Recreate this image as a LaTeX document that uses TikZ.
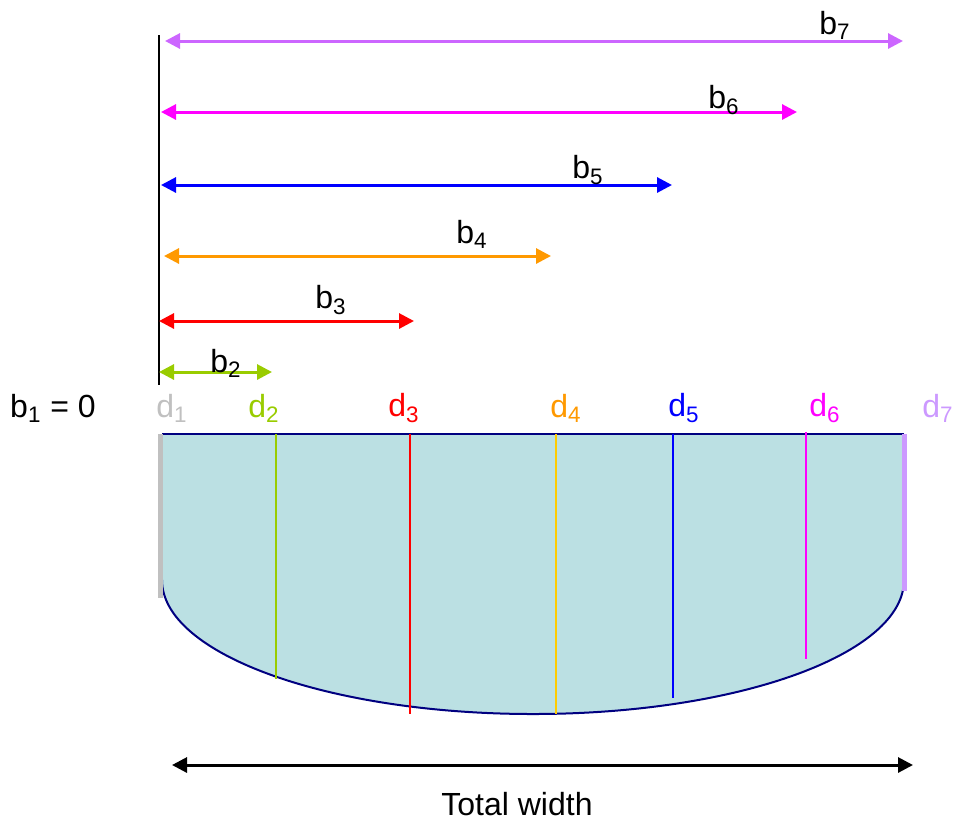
\documentclass[tikz,border=0pt]{standalone}
\usepackage{fontspec}
\setmainfont{Liberation Sans}
\usetikzlibrary{arrows.meta}
\definecolor{cb7}{HTML}{CC66FF}
\definecolor{cd7}{HTML}{CC99FF}
\definecolor{cb6}{HTML}{FF00FF}
\definecolor{cb5}{HTML}{0000FF}
\definecolor{cb4}{HTML}{FF9900}
\definecolor{cd4}{HTML}{FFCC00}
\definecolor{cb3}{HTML}{FF0000}
\definecolor{cb2}{HTML}{99CC00}
\definecolor{cd1}{HTML}{C0C0C0}
\definecolor{wfill}{HTML}{BBE0E3}
\definecolor{navy}{HTML}{000080}
\begin{document}
\begin{tikzpicture}[x=0.5pt,y=-0.5pt,
  lbl/.style={inner sep=0pt,font=\fontsize{16}{19}\selectfont},
  dim/.style={line width=1.5pt,{Triangle[length=7.5pt,width=7.5pt]}-{Triangle[length=7.5pt,width=7.5pt]}},
  sect/.style={line width=1pt},
  bar/.style={line width=2.5pt}]
\useasboundingbox (0,0) rectangle (956,820);
% section shape
\coordinate (tl) at (162,434);
\coordinate (tr) at (904,434);
\coordinate (rs) at (904,580);
\path[fill=wfill] (tl) -- (tr) -- (rs) arc[start angle=0,end angle=-180,x radius=185.5pt,y radius=67pt] -- cycle;
\draw[navy,line width=1pt] (rs) arc[start angle=0,end angle=-180,x radius=185.5pt,y radius=67pt];
\draw[navy,line width=1.1pt] (tl) -- (tr);
% side bars
\coordinate (g1) at (160,434); \coordinate (g2) at (160,598);
\coordinate (p1) at (904,434); \coordinate (p2) at (904,591);
\draw[bar,cd1] (g1) -- (g2);
\draw[bar,cd7] (p1) -- (p2);
% depth lines
\coordinate (d2t) at (276,434); \coordinate (d2b) at (276,679);
\coordinate (d3t) at (410,434); \coordinate (d3b) at (410,714);
\coordinate (d4t) at (556,434); \coordinate (d4b) at (556,714);
\coordinate (d5t) at (673,434); \coordinate (d5b) at (673,698);
\coordinate (d6t) at (806,432); \coordinate (d6b) at (806,659);
\draw[sect,cb2] (d2t) -- (d2b);
\draw[sect,cb3] (d3t) -- (d3b);
\draw[sect,cd4] (d4t) -- (d4b);
\draw[sect,cb5] (d5t) -- (d5b);
\draw[sect,cb6] (d6t) -- (d6b);
% reference line
\coordinate (v1) at (159,35); \coordinate (v2) at (159,385);
\draw[line width=1pt] (v1) -- (v2);
% dimension arrows
\coordinate (a7l) at (165,41); \coordinate (a7r) at (903,41);
\coordinate (a6l) at (161,112); \coordinate (a6r) at (797,112);
\coordinate (a5l) at (161,185); \coordinate (a5r) at (672,185);
\coordinate (a4l) at (164,256); \coordinate (a4r) at (551,256);
\coordinate (a3l) at (159,321); \coordinate (a3r) at (414,321);
\coordinate (a2l) at (159,372); \coordinate (a2r) at (272,372);
\draw[dim,cb7] (a7l) -- (a7r);
\draw[dim,cb6] (a6l) -- (a6r);
\draw[dim,cb5] (a5l) -- (a5r);
\draw[dim,cb4] (a4l) -- (a4r);
\draw[dim,cb3] (a3l) -- (a3r);
\draw[dim,cb2] (a2l) -- (a2r);
\coordinate (twl) at (172,765); \coordinate (twr) at (913,765);
\draw[dim,black] (twl) -- (twr);
% labels
\node[lbl] (b7) at (835,25) {b\textsubscript{7}};
\node[lbl] (b6) at (724,100) {b\textsubscript{6}};
\node[lbl] (b5) at (588,170) {b\textsubscript{5}};
\node[lbl] (b4) at (472,234) {b\textsubscript{4}};
\node[lbl] (b3) at (331,300) {b\textsubscript{3}};
\node[lbl] (b2) at (226,363) {b\textsubscript{2}};
\node[lbl] (b1) at (53,408) {b\textsubscript{1} = 0};
\node[lbl,text=cd1] (d1) at (172,408) {d\textsubscript{1}};
\node[lbl,text=cb2] (d2) at (264,408) {d\textsubscript{2}};
\node[lbl,text=cb3] (d3) at (404,408) {d\textsubscript{3}};
\node[lbl,text=cb4] (d4) at (566,408) {d\textsubscript{4}};
\node[lbl,text=cb5] (d5) at (684,408) {d\textsubscript{5}};
\node[lbl,text=cb6] (d6) at (825,408) {d\textsubscript{6}};
\node[lbl,text=cd7] (d7) at (938,408) {d\textsubscript{7}};
\node[lbl] (tw) at (517,804) {Total width};
\end{tikzpicture}
\end{document}
